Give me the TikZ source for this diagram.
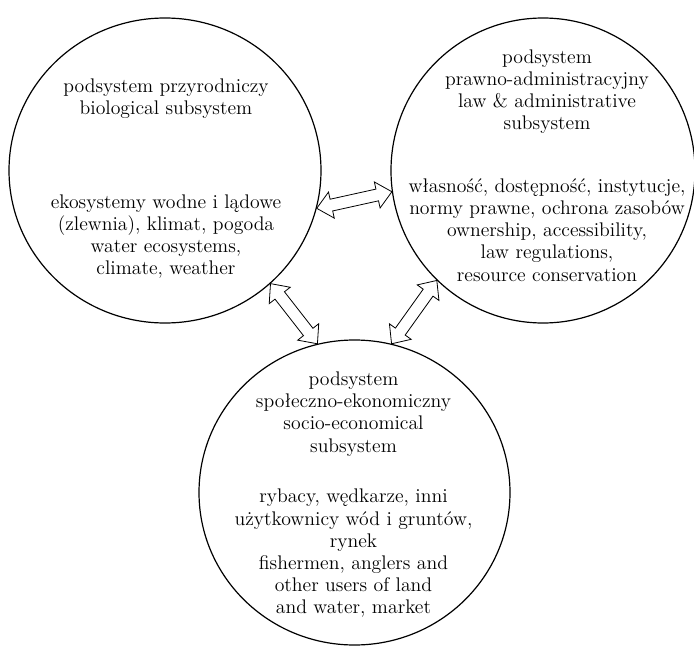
\documentclass[tikz,border=0pt]{standalone}
\usepackage{fontspec}
\usetikzlibrary{shapes.geometric,calc}
\tikzset{
  sys/.style={ellipse, draw, line width=0.9pt, inner sep=0pt, minimum height=228.75pt},
  txt/.style={align=center, inner sep=0pt, font=\fontsize{14.8pt}{16.6pt}\selectfont},
  blockarrow/.style={draw, line width=0.6pt, fill=white, line join=miter}
}
\newcommand\hollowdbl[2]{%
  \coordinate (ha) at ($(#1)!11.25pt!(#2)$);
  \coordinate (hb) at ($(#2)!11.25pt!(#1)$);
  \draw[blockarrow] (#1)
    -- ($(ha)!10pt!90:(#2)$)
    -- ($(ha)!4.5pt!90:(#2)$)
    -- ($(hb)!4.5pt!-90:(#1)$)
    -- ($(hb)!10pt!-90:(#1)$)
    -- (#2)
    -- ($(hb)!10pt!90:(#1)$)
    -- ($(hb)!4.5pt!90:(#1)$)
    -- ($(ha)!4.5pt!-90:(#2)$)
    -- ($(ha)!10pt!-90:(#2)$)
    -- cycle;}
\begin{document}
\begin{tikzpicture}[x=0.75pt, y=-0.75pt]
\useasboundingbox (0,0) rectangle (694,646);
% circles
\node[sys, minimum width=234pt] (L) at (165,170.5) {};
\node[sys, minimum width=228pt] (R) at (543,170.5) {};
\node[sys, minimum width=233.25pt] (B) at (354.5,492.5) {};
% texts
\node[txt] (Lt) at (166,98.8) {podsystem przyrodniczy\\biological subsystem};
\node[txt] (Lb) at (166,236.6) {ekosystemy wodne i lądowe\\(zlewnia), klimat, pogoda\\water ecosystems,\\climate, weather};
\node[txt] (Rt) at (547,91.7) {podsystem\\prawno-administracyjny\\law \& administrative\\subsystem};
\node[txt] (Rb) at (547,230) {własność, dostępność, instytucje,\\normy prawne, ochrona zasobów\\ownership, accessibility,\\law regulations,\\resource conservation};
\node[txt] (Bt) at (353.5,414) {podsystem\\społeczno-ekonomiczny\\socio-economical\\subsystem};
\node[txt] (Bb) at (353.5,553.3) {rybacy, wędkarze, inni\\użytkownicy wód i gruntów,\\rynek\\fishermen, anglers and\\other users of land\\and water, market};
% connectors
\coordinate (lr1) at (L.-14.6);
\coordinate (lr2) at (R.188.6);
\coordinate (lb1) at (L.-47.2);
\coordinate (lb2) at (B.104.7);
\coordinate (rb1) at (R.226.2);
\coordinate (rb2) at (B.76.2);
\hollowdbl{lr1}{lr2}
\hollowdbl{lb1}{lb2}
\hollowdbl{rb1}{rb2}
\end{tikzpicture}
\end{document}
